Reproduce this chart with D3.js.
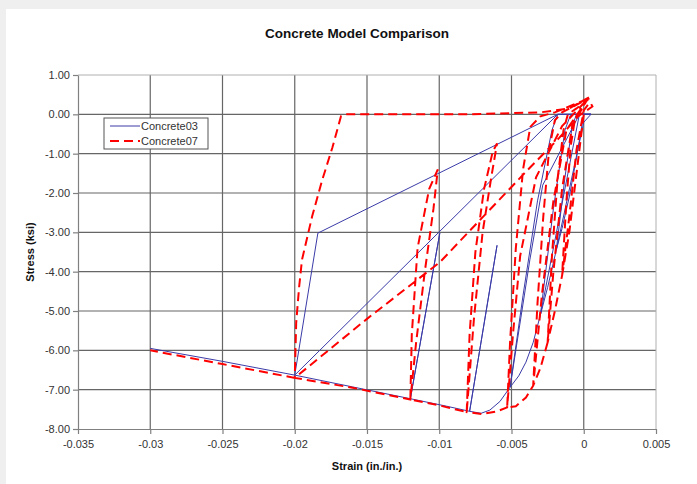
<!DOCTYPE html>
<html>
<head>
<meta charset="utf-8">
<script src="https://cdn.jsdelivr.net/npm/d3@7"></script>
<style>
  body { margin: 0; background: #efefef; }
  text { font-family: "Liberation Sans", Arial, sans-serif; }
</style>
</head>
<body>
<script>
var W = 697, H = 484;

// chart values: [strain, stress]
var concrete03 = [
  [0, 0], [-0.0005, -1.1], [-0.001, -2.1], [-0.0015, -2.9], [-0.0019, -3.45],
  [-0.0013, -1.6], [-0.0008, -0.3], [-0.0005, 0], [0.0005, 0],
  [0, -0.2], [-0.0019, -3.45],
  [-0.0025, -4.4], [-0.003, -5.1],
  [-0.0021, -2.4], [-0.0013, -0.4], [-0.0009, 0], [0.0005, 0],
  [-0.0003, 0], [-0.003, -5.1],
  [-0.0035, -5.8], [-0.004, -6.3], [-0.0045, -6.65], [-0.0051, -6.94],
  [-0.0042, -4.6], [-0.0032, -2.2], [-0.0022, -0.4], [-0.0018, 0], [0.0005, 0],
  [-0.0003, 0], [-0.00284, -1.8], [-0.00373, -3.7], [-0.0051, -6.94],
  [-0.0058, -7.3], [-0.0065, -7.52], [-0.0071, -7.6], [-0.0079, -7.55],
  [-0.006, -3.33], [-0.0079, -7.55],
  [-0.0095, -7.42], [-0.012, -7.23],
  [-0.00996, -3.02], [-0.012, -7.23],
  [-0.016, -6.93], [-0.02, -6.63],
  [-0.0184, -3.02], [-0.0018, 0], [0.0005, 0], [-0.0018, 0], [-0.02, -6.63],
  [-0.025, -6.28], [-0.03, -5.95]
];

var concrete07 = [
  [0, 0], [-0.0003, -0.9], [-0.0006, -1.8], [-0.001, -3.0], [-0.0015, -4.1],
  [-0.0012, -2.2], [-0.0009, -0.8], [-0.0006, -0.1], [-0.0002, 0.1], [0.0002, 0.38], [0.0004, 0.3],
  [0, 0.1], [-0.0005, -0.9], [-0.001, -2.6], [-0.0015, -4.1],
  [-0.002, -5.0], [-0.0025, -5.8],
  [-0.0022, -3.6], [-0.0018, -1.6], [-0.0014, -0.4], [-0.0011, 0], [-0.0005, 0.15], [0.0002, 0.35],
  [-0.0008, -0.3], [-0.0015, -1.9], [-0.0021, -4.0], [-0.0025, -5.8],
  [-0.003, -6.45], [-0.0035, -6.9],
  [-0.0032, -4.8], [-0.0028, -2.6], [-0.0024, -0.9], [-0.002, -0.15], [-0.0015, 0.05], [0.0003, 0.4],
  [-0.0012, -0.4], [-0.0021, -2.2], [-0.0029, -4.6], [-0.0035, -6.9],
  [-0.004, -7.2], [-0.0047, -7.42], [-0.0053, -7.45],
  [-0.0051, -5.8], [-0.0047, -3.4], [-0.0042, -1.4], [-0.0037, -0.32], [-0.003, -0.05], [-0.002, 0.05], [0.0003, 0.4],
  [-0.0015, -0.3], [-0.0033, -1.6], [-0.0044, -3.6], [-0.0049, -5.6], [-0.0053, -7.45],
  [-0.006, -7.55], [-0.007, -7.62], [-0.0081, -7.57],
  [-0.0079, -5.6], [-0.0075, -3.5], [-0.0069, -1.9], [-0.0063, -0.95], [-0.006, -0.74],
  [-0.0064, -1.6], [-0.007, -3.0], [-0.0076, -5.2], [-0.0081, -7.57],
  [-0.01, -7.4], [-0.012, -7.25],
  [-0.0119, -5.6], [-0.0115, -3.4], [-0.0107, -1.9], [-0.0101, -1.4],
  [-0.0104, -2.4], [-0.011, -4.0], [-0.0116, -5.8], [-0.012, -7.25],
  [-0.016, -6.95], [-0.02, -6.7],
  [-0.0199, -5.3], [-0.0197, -4.4], [-0.0195, -3.7], [-0.0188, -2.6], [-0.0181, -1.67], [-0.0174, -0.85], [-0.0168, -0.05], [-0.0165, 0],
  [-0.008, 0], [-0.003, 0.05], [-0.001, 0.15], [0.0003, 0.42], [0.0006, 0.2],
  [-0.0004, -0.05], [-0.0017, -0.6], [-0.0039, -1.42], [-0.00996, -3.76], [-0.015, -5.2], [-0.02, -6.7],
  [-0.025, -6.35], [-0.03, -6.0]
];

var seriesNames = ["Concrete03", "Concrete07"];
var xTicks = [-0.035, -0.03, -0.025, -0.02, -0.015, -0.01, -0.005, 0, 0.005];
var xTickLabels = ["-0.035", "-0.03", "-0.025", "-0.02", "-0.015", "-0.01", "-0.005", "0", "0.005"];
var yTicks = [1, 0, -1, -2, -3, -4, -5, -6, -7, -8];
var yTickLabels = ["1.00", "0.00", "-1.00", "-2.00", "-3.00", "-4.00", "-5.00", "-6.00", "-7.00", "-8.00"];

function main() {
  var svg = d3.select("body").append("svg")
    .attr("width", W)
    .attr("height", H)
    .style("display", "block");

  svg.append("rect").attr("width", W).attr("height", H).attr("fill", "#efefef");
  svg.append("rect").attr("x", 6).attr("y", 9).attr("width", W - 6).attr("height", H - 9).attr("fill", "#fff");

  var x = d3.scaleLinear().domain([-0.035, 0.005]).range([78, 656]);
  var y = d3.scaleLinear().domain([-8, 1]).range([429, 75]);

  // gridlines
  svg.append("g").selectAll("line.v")
    .data(xTicks.slice(1, -1))
    .enter().append("line")
    .attr("x1", function(d) { return x(d); }).attr("x2", function(d) { return x(d); })
    .attr("y1", y(1)).attr("y2", y(-8))
    .attr("stroke", "#666").attr("stroke-width", 1.2);
  svg.append("g").selectAll("line.h")
    .data(yTicks.slice(1, -1))
    .enter().append("line")
    .attr("x1", x(-0.035)).attr("x2", x(0.005))
    .attr("y1", function(d) { return y(d); }).attr("y2", function(d) { return y(d); })
    .attr("stroke", "#666").attr("stroke-width", 1.2);

  // frame
  svg.append("line").attr("x1", x(-0.035)).attr("x2", x(0.005)).attr("y1", y(1)).attr("y2", y(1))
    .attr("stroke", "#b0b0b0");
  svg.append("line").attr("x1", x(0.005)).attr("x2", x(0.005)).attr("y1", y(1)).attr("y2", y(-8))
    .attr("stroke", "#b0b0b0");

  // axes
  var xAxis = d3.axisBottom(x).tickValues(xTicks)
    .tickFormat(function(d, i) { return xTickLabels[i]; })
    .tickSizeInner(5).tickSizeOuter(0).tickPadding(6);
  var yAxis = d3.axisLeft(y).tickValues(yTicks)
    .tickFormat(function(d, i) { return yTickLabels[i]; })
    .tickSizeInner(5).tickSizeOuter(0).tickPadding(3);

  var gx = svg.append("g").attr("transform", "translate(0," + y(-8) + ")").call(xAxis);
  var gy = svg.append("g").attr("transform", "translate(" + x(-0.035) + ",0)").call(yAxis);
  [gx, gy].forEach(function(g) {
    g.selectAll("path, line").attr("stroke", "#808080").attr("stroke-width", 1.2);
    g.selectAll("text").attr("fill", "#333").style("font-size", "11px")
      .style("font-family", "'Liberation Sans', Arial, sans-serif");
  });

  // series
  var line = d3.line()
    .x(function(d) { return x(d[0]); })
    .y(function(d) { return y(d[1]); });

  svg.append("path").datum(concrete03)
    .attr("d", line).attr("fill", "none")
    .attr("stroke", "#3b3ba8").attr("stroke-width", 1);
  svg.append("path").datum(concrete07)
    .attr("d", line).attr("fill", "none")
    .attr("stroke", "#ff0000").attr("stroke-width", 2)
    .attr("stroke-dasharray", "9,5");

  // title and axis titles
  svg.append("text").attr("x", 357).attr("y", 38).attr("text-anchor", "middle")
    .style("font-size", "13.5px").style("font-weight", "bold").attr("fill", "#111")
    .text("Concrete Model Comparison");
  svg.append("text").attr("x", 367).attr("y", 470).attr("text-anchor", "middle")
    .style("font-size", "11px").style("font-weight", "bold").attr("fill", "#111")
    .text("Strain (in./in.)");
  svg.append("text").attr("transform", "translate(34,252) rotate(-90)").attr("text-anchor", "middle")
    .style("font-size", "11px").style("font-weight", "bold").attr("fill", "#111")
    .text("Stress (ksi)");

  // legend
  var lg = svg.append("g");
  lg.append("rect").attr("x", 104).attr("y", 118).attr("width", 104).attr("height", 31)
    .attr("fill", "#fff").attr("stroke", "#555");
  var styles = [
    { stroke: "#3b3ba8", width: 1, dash: null },
    { stroke: "#ff0000", width: 2, dash: "9,5" }
  ];
  seriesNames.forEach(function(name, i) {
    var ly = 126 + i * 15;
    lg.append("line").attr("x1", 110).attr("x2", 140).attr("y1", ly).attr("y2", ly)
      .attr("stroke", styles[i].stroke).attr("stroke-width", styles[i].width)
      .attr("stroke-dasharray", styles[i].dash);
    lg.append("text").attr("x", 141).attr("y", ly + 4)
      .style("font-size", "11px").attr("fill", "#333").text(name);
  });
}
main();
</script>
</body>
</html>
